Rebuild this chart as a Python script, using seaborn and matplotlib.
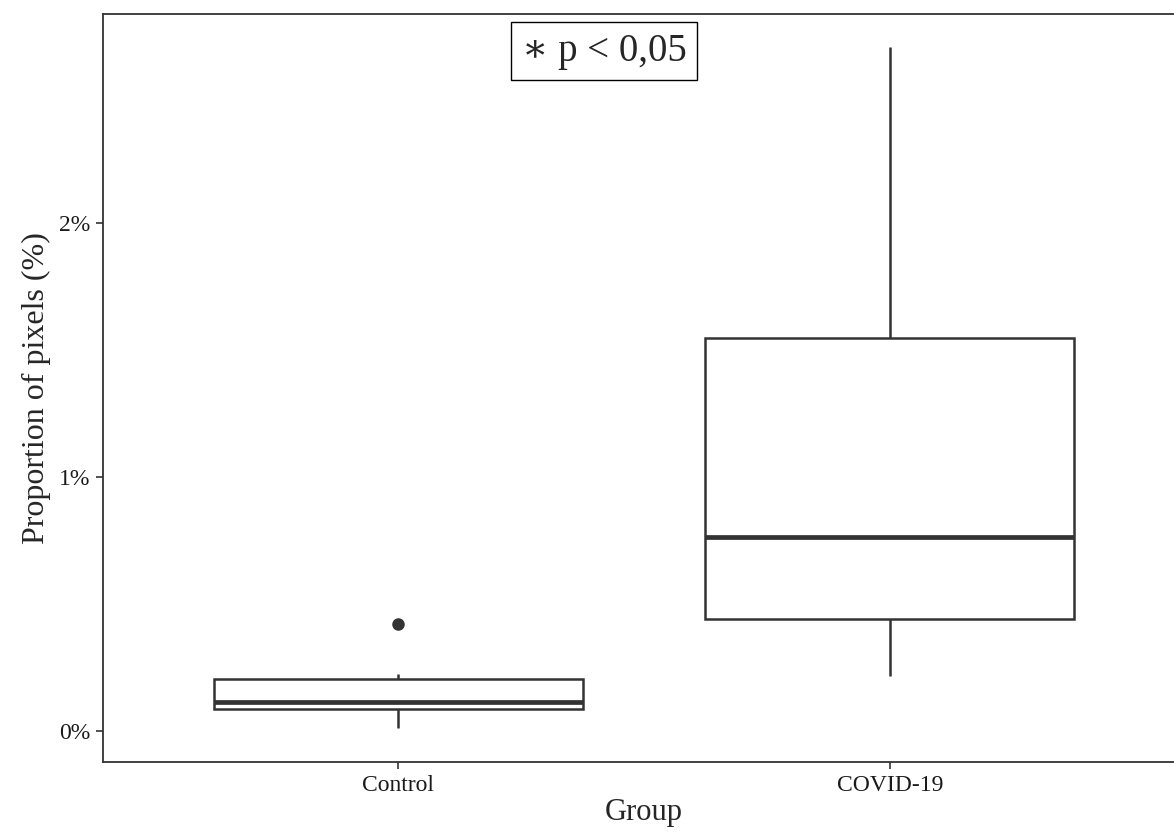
#!/usr/bin/env python3
"""
Boxplot of pixel proportion by group (Control vs COVID-19)
"""

import pandas as pd
import matplotlib
matplotlib.use("Agg")
import matplotlib.pyplot as plt
import seaborn as sns

# Data (percent of pixels)
GROUPS = ["Control", "COVID-19"]
control_values = [0.013, 0.06, 0.085, 0.10, 0.115, 0.16, 0.205, 0.224, 0.421]
covid_values = [0.218, 0.35, 0.441, 0.60, 0.764, 1.10, 1.547, 2.00, 2.693]
Y_TICKS = [0, 1, 2]
Y_TICK_LABELS = ["0%", "1%", "2%"]
ANNOTATION = "\u2217 p < 0,05"

LINE = "#333333"


def build_frame():
    """Long-format table for seaborn"""
    rows = [("Control", v) for v in control_values]
    rows += [("COVID-19", v) for v in covid_values]
    return pd.DataFrame(rows, columns=["Group", "value"])


def main():
    df = build_frame()

    sns.set_theme(style="white")
    plt.rcParams["font.family"] = ["Liberation Serif", "DejaVu Serif"]

    fig = plt.figure(figsize=(11.74, 8.36), dpi=100)
    # axes runs slightly past the right edge, as in the reference crop
    ax = fig.add_axes([0.0877, 0.0885, 0.9217, 0.8948])

    sns.boxplot(
        data=df, x="Group", y="value", order=GROUPS, ax=ax,
        width=0.75, color="white", linecolor=LINE, linewidth=1.8,
        whis=1.5, showcaps=False, fliersize=8,
        medianprops=dict(linewidth=3.4, color=LINE),
        flierprops=dict(marker="o", markerfacecolor=LINE,
                        markeredgecolor=LINE),
    )

    ax.set_xlim(-0.6, 1.6)
    ax.set_ylim(-0.122, 2.823)
    ax.set_yticks(Y_TICKS)
    ax.set_yticklabels(Y_TICK_LABELS)

    for side in ["left", "bottom", "top", "right"]:
        ax.spines[side].set_color(LINE)
        ax.spines[side].set_linewidth(1.3)

    ax.tick_params(axis="both", which="both", length=5, width=1.2,
                   color=LINE, labelsize=17, labelcolor="#1a1a1a",
                   left=True, bottom=True, pad=4)

    ax.set_xlabel("Group", fontsize=22, labelpad=2)
    ax.set_ylabel("Proportion of pixels (%)", fontsize=23, labelpad=6)

    ax.text(0.419, 2.677, ANNOTATION, fontsize=28, ha="center", va="center",
            bbox=dict(boxstyle="square,pad=0.28", fc="white", ec="black",
                      lw=1.0))

    plt.savefig("out.png", dpi=100)
    plt.close()


if __name__ == "__main__":
    main()
